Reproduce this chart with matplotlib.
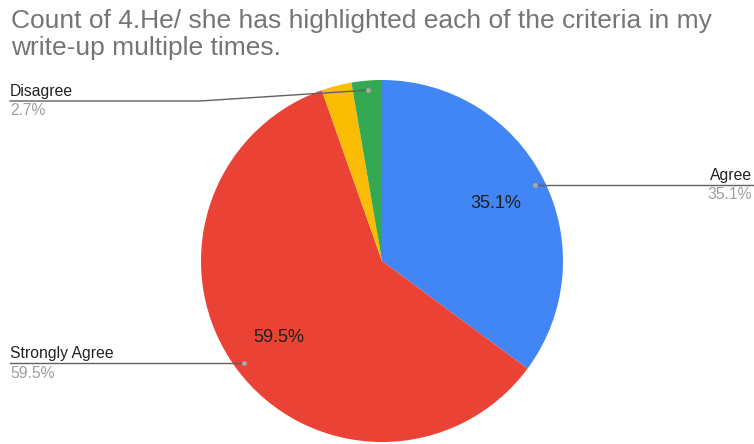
import matplotlib
matplotlib.use("Agg")
import matplotlib.pyplot as plt

# Data
categories = ["Agree", "Strongly Agree", "Neutral", "Disagree"]
counts = [13, 22, 1, 1]
colors = ["#4285F4", "#EA4335", "#FBBC04", "#34A853"]
title_lines = ["Count of 4.He/ she has highlighted each of the criteria in my",
               "write-up multiple times."]

W, H = 754, 444
fig = plt.figure(figsize=(W / 100, H / 100), dpi=100)
ax = fig.add_axes([0, 0, 1, 1])
ax.set_xlim(0, W)
ax.set_ylim(0, H)
ax.set_aspect("equal")
ax.axis("off")
plt.rcParams["font.family"] = ["Liberation Sans", "DejaVu Sans"]

def Y(y):
    return H - y

cx, cy, r = 382, Y(261), 181
total = sum(counts)

wedges, texts, autotexts = ax.pie(
    counts, colors=colors, startangle=90, counterclock=False,
    center=(cx, cy), radius=r, frame=True,
    autopct=lambda p: f"{p:.1f}%" if p > 5 else "",
    pctdistance=0.707,
    wedgeprops=dict(linewidth=0),
    textprops=dict(fontsize=13, color="#1f1f1f", family="Liberation Sans"))
ax.set_xlim(0, W)
ax.set_ylim(0, H)
ax.axis("off")

# Title
ax.text(11, Y(27.5), title_lines[0], fontsize=19, color="#757575",
        ha="left", va="baseline", family="Liberation Sans")
ax.text(11, Y(55), title_lines[1], fontsize=19, color="#757575",
        ha="left", va="baseline", family="Liberation Sans")

line_c = "#616161"
dot_c = "#a8a8a8"
lab_c = "#222222"
pct_c = "#9e9e9e"
fs = 11.3

def pct(i):
    return f"{100 * counts[i] / total:.1f}%"

# Disagree (left top)
i = categories.index("Disagree")
ax.plot([10, 200, 355, 368], [Y(101), Y(101), Y(91), Y(90)], color=line_c, lw=1)
ax.plot(368, Y(90), "o", ms=3.5, color=dot_c, mec="none")
ax.text(10, Y(96), categories[i], fontsize=fs, color=lab_c, ha="left", va="baseline")
ax.text(10, Y(115), pct(i), fontsize=fs, color=pct_c, ha="left", va="baseline")

# Agree (right)
i = categories.index("Agree")
ax.plot([535, 754], [Y(184.5), Y(184.5)], color=line_c, lw=1)
ax.plot(535, Y(184.5), "o", ms=3.5, color=dot_c, mec="none")
ax.text(752, Y(179.5), categories[i], fontsize=fs, color=lab_c, ha="right", va="baseline")
ax.text(752, Y(199), pct(i), fontsize=fs, color=pct_c, ha="right", va="baseline")

# Strongly Agree (left bottom)
i = categories.index("Strongly Agree")
ax.plot([10, 244], [Y(363), Y(363)], color=line_c, lw=1)
ax.plot(244, Y(363), "o", ms=3.5, color=dot_c, mec="none")
ax.text(10, Y(358), categories[i], fontsize=fs, color=lab_c, ha="left", va="baseline")
ax.text(10, Y(378), pct(i), fontsize=fs, color=pct_c, ha="left", va="baseline")

fig.savefig("out.png", dpi=100)
